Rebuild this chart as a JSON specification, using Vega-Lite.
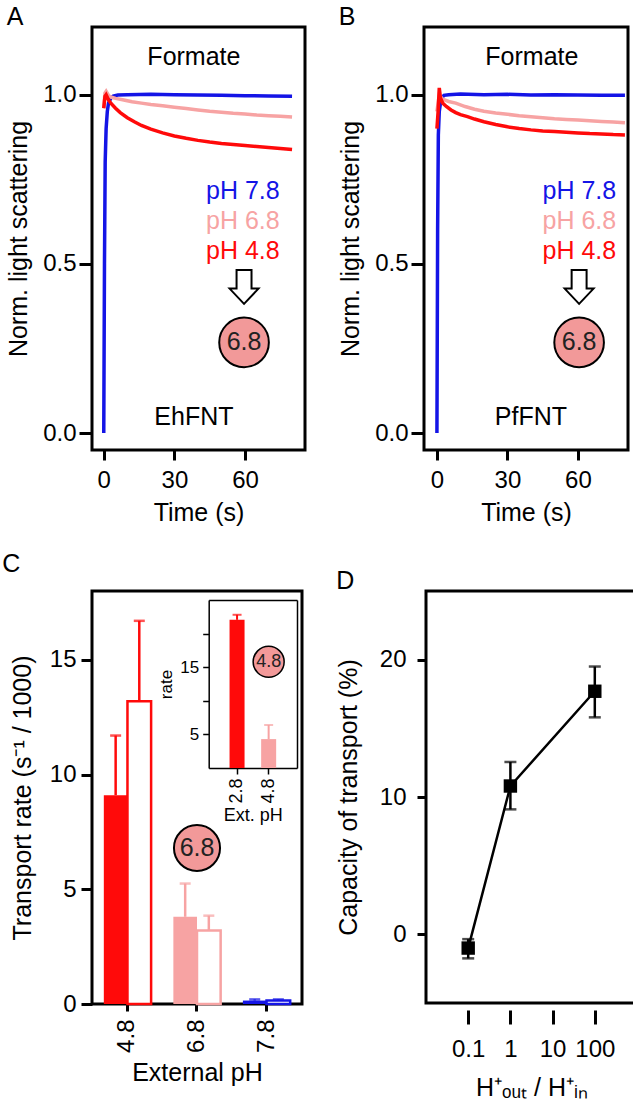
{
  "$schema": "https://vega.github.io/schema/vega-lite/v6.json",
  "padding": {"left": 0, "top": 3, "right": 0, "bottom": 0},
  "background": "white",
  "spacing": 23,
  "config": {
    "font": "Liberation Sans",
    "view": {"stroke": "black", "strokeWidth": 3},
    "axis": {"grid": false, "domain": false, "tickColor": "black", "tickWidth": 3, "labelColor": "black", "titleColor": "black", "labelFontSize": 24, "titleFontSize": 25, "titleFontWeight": "normal", "labelOverlap": false, "labelFlush": false},
    "title": {"fontSize": 25, "fontWeight": "normal", "anchor": "start", "color": "black"}
  },
  "datasets": {
    "ts": [
      {"panel":"A","pH":"7.8","t":0,"v":0},{"panel":"A","pH":"7.8","t":0.3,"v":0.5},{"panel":"A","pH":"7.8","t":0.6,"v":0.8},{"panel":"A","pH":"7.8","t":1,"v":0.9},{"panel":"A","pH":"7.8","t":1.5,"v":0.95},{"panel":"A","pH":"7.8","t":2,"v":0.975},{"panel":"A","pH":"7.8","t":3,"v":0.99},{"panel":"A","pH":"7.8","t":4,"v":0.996},{"panel":"A","pH":"7.8","t":6,"v":0.999},{"panel":"A","pH":"7.8","t":10,"v":1.0},{"panel":"A","pH":"7.8","t":20,"v":1.001},{"panel":"A","pH":"7.8","t":30,"v":1.0},{"panel":"A","pH":"7.8","t":40,"v":0.999},{"panel":"A","pH":"7.8","t":50,"v":0.998},{"panel":"A","pH":"7.8","t":60,"v":0.997},{"panel":"A","pH":"7.8","t":70,"v":0.996},{"panel":"A","pH":"7.8","t":80,"v":0.995},
      {"panel":"A","pH":"6.8","t":0,"v":0.96},{"panel":"A","pH":"6.8","t":0.5,"v":1.005},{"panel":"A","pH":"6.8","t":1,"v":1.01},{"panel":"A","pH":"6.8","t":2,"v":0.998},{"panel":"A","pH":"6.8","t":3,"v":0.993},{"panel":"A","pH":"6.8","t":5,"v":0.989},{"panel":"A","pH":"6.8","t":8,"v":0.985},{"panel":"A","pH":"6.8","t":12,"v":0.979},{"panel":"A","pH":"6.8","t":16,"v":0.975},{"panel":"A","pH":"6.8","t":20,"v":0.971},{"panel":"A","pH":"6.8","t":25,"v":0.967},{"panel":"A","pH":"6.8","t":30,"v":0.963},{"panel":"A","pH":"6.8","t":35,"v":0.959},{"panel":"A","pH":"6.8","t":40,"v":0.955},{"panel":"A","pH":"6.8","t":45,"v":0.951},{"panel":"A","pH":"6.8","t":50,"v":0.948},{"panel":"A","pH":"6.8","t":55,"v":0.945},{"panel":"A","pH":"6.8","t":60,"v":0.943},{"panel":"A","pH":"6.8","t":65,"v":0.94},{"panel":"A","pH":"6.8","t":70,"v":0.938},{"panel":"A","pH":"6.8","t":75,"v":0.936},{"panel":"A","pH":"6.8","t":80,"v":0.934},
      {"panel":"A","pH":"4.8","t":0,"v":0.96},{"panel":"A","pH":"4.8","t":0.5,"v":0.995},{"panel":"A","pH":"4.8","t":1,"v":1.0},{"panel":"A","pH":"4.8","t":2,"v":0.985},{"panel":"A","pH":"4.8","t":3,"v":0.975},{"panel":"A","pH":"4.8","t":5,"v":0.96},{"panel":"A","pH":"4.8","t":7,"v":0.947},{"panel":"A","pH":"4.8","t":10,"v":0.932},{"panel":"A","pH":"4.8","t":13,"v":0.92},{"panel":"A","pH":"4.8","t":16,"v":0.909},{"panel":"A","pH":"4.8","t":20,"v":0.898},{"panel":"A","pH":"4.8","t":25,"v":0.887},{"panel":"A","pH":"4.8","t":30,"v":0.878},{"panel":"A","pH":"4.8","t":35,"v":0.871},{"panel":"A","pH":"4.8","t":40,"v":0.865},{"panel":"A","pH":"4.8","t":45,"v":0.86},{"panel":"A","pH":"4.8","t":50,"v":0.856},{"panel":"A","pH":"4.8","t":55,"v":0.853},{"panel":"A","pH":"4.8","t":60,"v":0.85},{"panel":"A","pH":"4.8","t":65,"v":0.847},{"panel":"A","pH":"4.8","t":70,"v":0.844},{"panel":"A","pH":"4.8","t":75,"v":0.841},{"panel":"A","pH":"4.8","t":80,"v":0.838},
      {"panel":"B","pH":"7.8","t":0,"v":0},{"panel":"B","pH":"7.8","t":0.3,"v":0.6},{"panel":"B","pH":"7.8","t":0.6,"v":0.88},{"panel":"B","pH":"7.8","t":1,"v":0.95},{"panel":"B","pH":"7.8","t":1.5,"v":0.975},{"panel":"B","pH":"7.8","t":2,"v":0.99},{"panel":"B","pH":"7.8","t":3,"v":0.998},{"panel":"B","pH":"7.8","t":5,"v":1.0},{"panel":"B","pH":"7.8","t":10,"v":1.002},{"panel":"B","pH":"7.8","t":20,"v":1.0},{"panel":"B","pH":"7.8","t":30,"v":1.001},{"panel":"B","pH":"7.8","t":40,"v":0.999},{"panel":"B","pH":"7.8","t":50,"v":1.0},{"panel":"B","pH":"7.8","t":60,"v":0.999},{"panel":"B","pH":"7.8","t":70,"v":0.998},{"panel":"B","pH":"7.8","t":80,"v":0.998},
      {"panel":"B","pH":"6.8","t":0,"v":0.95},{"panel":"B","pH":"6.8","t":1,"v":1.0},{"panel":"B","pH":"6.8","t":2,"v":0.99},{"panel":"B","pH":"6.8","t":3,"v":0.985},{"panel":"B","pH":"6.8","t":5,"v":0.98},{"panel":"B","pH":"6.8","t":8,"v":0.975},{"panel":"B","pH":"6.8","t":12,"v":0.965},{"panel":"B","pH":"6.8","t":16,"v":0.957},{"panel":"B","pH":"6.8","t":20,"v":0.951},{"panel":"B","pH":"6.8","t":25,"v":0.946},{"panel":"B","pH":"6.8","t":30,"v":0.942},{"panel":"B","pH":"6.8","t":35,"v":0.938},{"panel":"B","pH":"6.8","t":40,"v":0.935},{"panel":"B","pH":"6.8","t":45,"v":0.932},{"panel":"B","pH":"6.8","t":50,"v":0.929},{"panel":"B","pH":"6.8","t":55,"v":0.927},{"panel":"B","pH":"6.8","t":60,"v":0.925},{"panel":"B","pH":"6.8","t":65,"v":0.923},{"panel":"B","pH":"6.8","t":70,"v":0.921},{"panel":"B","pH":"6.8","t":75,"v":0.919},{"panel":"B","pH":"6.8","t":80,"v":0.917},
      {"panel":"B","pH":"4.8","t":0,"v":0.9},{"panel":"B","pH":"4.8","t":0.5,"v":0.95},{"panel":"B","pH":"4.8","t":1,"v":1.02},{"panel":"B","pH":"4.8","t":1.5,"v":0.99},{"panel":"B","pH":"4.8","t":2.5,"v":0.975},{"panel":"B","pH":"4.8","t":4,"v":0.965},{"panel":"B","pH":"4.8","t":6,"v":0.955},{"panel":"B","pH":"4.8","t":8,"v":0.947},{"panel":"B","pH":"4.8","t":10,"v":0.941},{"panel":"B","pH":"4.8","t":13,"v":0.935},{"panel":"B","pH":"4.8","t":16,"v":0.928},{"panel":"B","pH":"4.8","t":20,"v":0.92},{"panel":"B","pH":"4.8","t":25,"v":0.912},{"panel":"B","pH":"4.8","t":30,"v":0.905},{"panel":"B","pH":"4.8","t":35,"v":0.9},{"panel":"B","pH":"4.8","t":40,"v":0.896},{"panel":"B","pH":"4.8","t":45,"v":0.893},{"panel":"B","pH":"4.8","t":50,"v":0.891},{"panel":"B","pH":"4.8","t":55,"v":0.889},{"panel":"B","pH":"4.8","t":60,"v":0.887},{"panel":"B","pH":"4.8","t":65,"v":0.885},{"panel":"B","pH":"4.8","t":70,"v":0.884},{"panel":"B","pH":"4.8","t":75,"v":0.882},{"panel":"B","pH":"4.8","t":80,"v":0.881}
    ],
    "annText": [
      {"panel":"A","label":"Formate","t":38.3,"v":1.111},
      {"panel":"A","label":"EhFNT","t":38.3,"v":0.047},
      {"panel":"B","label":"Formate","t":40.4,"v":1.111},
      {"panel":"B","label":"PfFNT","t":40,"v":0.047}
    ],
    "annPH": [
      {"panel":"A","pH":"7.8","label":"pH 7.8","t":59.1,"v":0.716},
      {"panel":"A","pH":"6.8","label":"pH 6.8","t":59.1,"v":0.627},
      {"panel":"A","pH":"4.8","label":"pH 4.8","t":59.1,"v":0.537},
      {"panel":"B","pH":"7.8","label":"pH 7.8","t":60.6,"v":0.716},
      {"panel":"B","pH":"6.8","label":"pH 6.8","t":60.6,"v":0.627},
      {"panel":"B","pH":"4.8","label":"pH 4.8","t":60.6,"v":0.537}
    ],
    "annMark": [
      {"panel":"A","t":59.6,"arrowV":0.432,"circleV":0.268,"label":"6.8"},
      {"panel":"B","t":60.5,"arrowV":0.432,"circleV":0.268,"label":"6.8"}
    ],
    "barsC": [
      {"pH":"4.8","kind":"filled","rate":9.1,"upper":11.7},
      {"pH":"4.8","kind":"open","rate":13.2,"upper":16.7},
      {"pH":"6.8","kind":"filled","rate":3.8,"upper":5.25},
      {"pH":"6.8","kind":"open","rate":3.2,"upper":3.85},
      {"pH":"7.8","kind":"filled","rate":0.15,"upper":0.2},
      {"pH":"7.8","kind":"open","rate":0.15,"upper":0.2}
    ],
    "circC": [{"pH":"6.8","rate":6.8,"label":"6.8"}],
    "inset": [
      {"pH":"2.8","rate":22.05,"upper":22.8},
      {"pH":"4.8","rate":4.3,"upper":6.4}
    ],
    "circInset": [{"pH":"4.8","rate":15.8,"label":"4.8"}],
    "capD": [
      {"ratio":0.1,"cap":-1.0,"lo":-1.75,"hi":-0.35},
      {"ratio":1,"cap":10.8,"lo":9.1,"hi":12.55},
      {"ratio":100,"cap":17.7,"lo":15.8,"hi":19.5}
    ]
  },
  "vconcat": [
    {
      "spacing": 30,
      "hconcat": [
        {
          "title": {"text": "A", "offset": -3},
          "width": 213,
          "height": 423,
          "layer": [
            {
              "data": {"name": "ts"},
              "transform": [{"filter": "datum.panel === 'A'"}],
              "mark": {"type": "line", "strokeWidth": 3.5},
              "encoding": {
                "x": {"field": "t", "type": "quantitative", "scale": {"domain": [-5, 85.5], "nice": false, "zero": false}, "axis": {"values": [0, 30, 60], "title": "Time (s)", "tickSize": 10, "labelPadding": 8, "titlePadding": 8}},
                "y": {"field": "v", "type": "quantitative", "scale": {"domain": [-0.05, 1.2], "nice": false, "zero": false}, "axis": {"values": [0, 0.5, 1], "format": ".1f", "title": "Norm. light scattering", "tickSize": 13, "labelPadding": 3, "titlePadding": 11}},
                "color": {"field": "pH", "type": "nominal", "scale": {"domain": ["7.8", "6.8", "4.8"], "range": ["#1414e6", "#f7a3a3", "#ff0a0a"]}, "legend": null}
              }
            },
            {
              "data": {"name": "annText"},
              "transform": [{"filter": "datum.panel === 'A'"}],
              "mark": {"type": "text", "fontSize": 25, "color": "black", "baseline": "middle"},
              "encoding": {"x": {"field": "t", "type": "quantitative"}, "y": {"field": "v", "type": "quantitative"}, "text": {"field": "label"}}
            },
            {
              "data": {"name": "annPH"},
              "transform": [{"filter": "datum.panel === 'A'"}],
              "mark": {"type": "text", "fontSize": 25, "baseline": "middle"},
              "encoding": {"x": {"field": "t", "type": "quantitative"}, "y": {"field": "v", "type": "quantitative"}, "text": {"field": "label"}, "color": {"field": "pH", "type": "nominal", "legend": null}}
            },
            {
              "data": {"name": "annMark"},
              "transform": [{"filter": "datum.panel === 'A'"}],
              "mark": {"type": "point", "shape": "M-0.44,-1L0.44,-1L0.44,0.1L0.85,0.1L0,1L-0.85,0.1L-0.44,0.1Z", "filled": true, "fill": "white", "stroke": "black", "strokeWidth": 2, "size": 1156, "opacity": 1},
              "encoding": {"x": {"field": "t", "type": "quantitative"}, "y": {"field": "arrowV", "type": "quantitative"}}
            },
            {
              "data": {"name": "annMark"},
              "transform": [{"filter": "datum.panel === 'A'"}],
              "mark": {"type": "point", "shape": "circle", "filled": true, "fill": "#f29999", "stroke": "black", "strokeWidth": 2, "size": 2463, "opacity": 1},
              "encoding": {"x": {"field": "t", "type": "quantitative"}, "y": {"field": "circleV", "type": "quantitative"}}
            },
            {
              "data": {"name": "annMark"},
              "transform": [{"filter": "datum.panel === 'A'"}],
              "mark": {"type": "text", "fontSize": 25, "color": "#222222", "baseline": "middle"},
              "encoding": {"x": {"field": "t", "type": "quantitative"}, "y": {"field": "circleV", "type": "quantitative"}, "text": {"field": "label"}}
            }
          ]
        },
        {
          "title": {"text": "B", "offset": -3},
          "width": 204,
          "height": 423,
          "layer": [
            {
              "data": {"name": "ts"},
              "transform": [{"filter": "datum.panel === 'B'"}],
              "mark": {"type": "line", "strokeWidth": 3.5},
              "encoding": {
                "x": {"field": "t", "type": "quantitative", "scale": {"domain": [-5.5, 81.3], "nice": false, "zero": false}, "axis": {"values": [0, 30, 60], "title": "Time (s)", "tickSize": 10, "labelPadding": 8, "titlePadding": 8}},
                "y": {"field": "v", "type": "quantitative", "scale": {"domain": [-0.05, 1.2], "nice": false, "zero": false}, "axis": {"values": [0, 0.5, 1], "format": ".1f", "title": "Norm. light scattering", "tickSize": 13, "labelPadding": 3, "titlePadding": 11}},
                "color": {"field": "pH", "type": "nominal", "scale": {"domain": ["7.8", "6.8", "4.8"], "range": ["#1414e6", "#f7a3a3", "#ff0a0a"]}, "legend": null}
              }
            },
            {
              "data": {"name": "annText"},
              "transform": [{"filter": "datum.panel === 'B'"}],
              "mark": {"type": "text", "fontSize": 25, "color": "black", "baseline": "middle"},
              "encoding": {"x": {"field": "t", "type": "quantitative"}, "y": {"field": "v", "type": "quantitative"}, "text": {"field": "label"}}
            },
            {
              "data": {"name": "annPH"},
              "transform": [{"filter": "datum.panel === 'B'"}],
              "mark": {"type": "text", "fontSize": 25, "baseline": "middle"},
              "encoding": {"x": {"field": "t", "type": "quantitative"}, "y": {"field": "v", "type": "quantitative"}, "text": {"field": "label"}, "color": {"field": "pH", "type": "nominal", "legend": null}}
            },
            {
              "data": {"name": "annMark"},
              "transform": [{"filter": "datum.panel === 'B'"}],
              "mark": {"type": "point", "shape": "M-0.44,-1L0.44,-1L0.44,0.1L0.85,0.1L0,1L-0.85,0.1L-0.44,0.1Z", "filled": true, "fill": "white", "stroke": "black", "strokeWidth": 2, "size": 1156, "opacity": 1},
              "encoding": {"x": {"field": "t", "type": "quantitative"}, "y": {"field": "arrowV", "type": "quantitative"}}
            },
            {
              "data": {"name": "annMark"},
              "transform": [{"filter": "datum.panel === 'B'"}],
              "mark": {"type": "point", "shape": "circle", "filled": true, "fill": "#f29999", "stroke": "black", "strokeWidth": 2, "size": 2463, "opacity": 1},
              "encoding": {"x": {"field": "t", "type": "quantitative"}, "y": {"field": "circleV", "type": "quantitative"}}
            },
            {
              "data": {"name": "annMark"},
              "transform": [{"filter": "datum.panel === 'B'"}],
              "mark": {"type": "text", "fontSize": 25, "color": "#222222", "baseline": "middle"},
              "encoding": {"x": {"field": "t", "type": "quantitative"}, "y": {"field": "circleV", "type": "quantitative"}, "text": {"field": "label"}}
            }
          ]
        }
      ]
    },
    {
      "spacing": 30,
      "hconcat": [
        {
          "title": {"text": "C", "offset": 14, "dx": -8},
          "width": 210,
          "height": 413,
          "resolve": {"scale": {"x": "independent", "y": "independent", "color": "independent", "xOffset": "independent"}, "axis": {"x": "independent", "y": "independent"}},
          "layer": [
            {
              "data": {"name": "barsC"},
              "encoding": {
                "x": {"field": "pH", "type": "nominal", "scale": {"domain": ["4.8", "6.8", "7.8"], "paddingInner": 0.32, "paddingOuter": 0.17}, "axis": {"labelAngle": -90, "title": "External pH", "tickSize": 7, "labelPadding": 8, "titlePadding": 8}},
                "xOffset": {"field": "kind", "type": "nominal", "scale": {"domain": ["filled", "open"], "paddingInner": 0, "paddingOuter": 0}}
              },
              "layer": [
                {
                  "transform": [{"filter": "datum.kind === 'filled'"}],
                  "mark": {"type": "bar"},
                  "encoding": {
                    "y": {"field": "rate", "type": "quantitative", "scale": {"domain": [0, 18], "nice": false}, "axis": {"values": [0, 5, 10, 15], "title": "Transport rate (s⁻¹ / 1000)", "tickSize": 11, "labelPadding": 5, "titlePadding": 14}},
                    "color": {"field": "pH", "type": "nominal", "scale": {"domain": ["4.8", "6.8", "7.8"], "range": ["#ff0a0a", "#f7a3a3", "#1414e6"]}, "legend": null}
                  }
                },
                {
                  "transform": [{"filter": "datum.kind === 'open'"}],
                  "mark": {"type": "bar", "fill": "white", "strokeWidth": 2.5},
                  "encoding": {
                    "y": {"field": "rate", "type": "quantitative"},
                    "stroke": {"field": "pH", "type": "nominal", "scale": {"domain": ["4.8", "6.8", "7.8"], "range": ["#ff0a0a", "#f7a3a3", "#1414e6"]}, "legend": null}
                  }
                },
                {
                  "mark": {"type": "rule", "strokeWidth": 2.5},
                  "encoding": {
                    "y": {"field": "rate", "type": "quantitative"},
                    "y2": {"field": "upper"},
                    "color": {"field": "pH", "type": "nominal", "legend": null}
                  }
                },
                {
                  "mark": {"type": "tick", "thickness": 2.5, "size": 11, "orient": "horizontal"},
                  "encoding": {
                    "y": {"field": "upper", "type": "quantitative"},
                    "color": {"field": "pH", "type": "nominal", "legend": null}
                  }
                },
                {
                  "data": {"name": "circC"},
                  "mark": {"type": "point", "shape": "circle", "filled": true, "fill": "#f29999", "stroke": "black", "strokeWidth": 2, "size": 2124, "opacity": 1},
                  "encoding": {"xOffset": null, "y": {"field": "rate", "type": "quantitative"}}
                },
                {
                  "data": {"name": "circC"},
                  "mark": {"type": "text", "fontSize": 25, "color": "#222222", "baseline": "middle"},
                  "encoding": {"xOffset": null, "y": {"field": "rate", "type": "quantitative"}, "text": {"field": "label"}}
                }
              ]
            },
            {
              "data": {"name": "inset"},
              "encoding": {
                "x": {"field": "pH", "type": "nominal", "scale": {"domain": ["2.8", "4.8"], "range": [116.7, 205], "paddingInner": 0.525, "paddingOuter": 0.66}, "axis": {"orient": "bottom", "offset": -236, "labelAngle": -90, "title": "Ext. pH", "labelFontSize": 18, "titleFontSize": 18, "tickSize": 6, "tickWidth": 1.5, "domain": true, "domainColor": "black", "domainWidth": 1.5, "labelPadding": 4, "titlePadding": 3}}
              },
              "layer": [
                {
                  "mark": {"type": "bar"},
                  "encoding": {
                    "y": {"field": "rate", "type": "quantitative", "scale": {"domain": [0, 25], "range": [177, 9], "nice": false}, "axis": {"orient": "left", "offset": -116.7, "values": [5, 10, 15, 20], "labelExpr": "datum.value === 5 || datum.value === 15 ? datum.label : ''", "title": "rate", "labelFontSize": 17, "titleFontSize": 17, "tickSize": 6, "tickWidth": 1.5, "domain": true, "domainColor": "black", "domainWidth": 1.5, "labelPadding": 4, "titlePadding": 4}},
                    "color": {"field": "pH", "type": "nominal", "scale": {"domain": ["2.8", "4.8"], "range": ["#ff0a0a", "#f7a3a3"]}, "legend": null}
                  }
                },
                {
                  "mark": {"type": "rule", "strokeWidth": 2},
                  "encoding": {"y": {"field": "rate", "type": "quantitative"}, "y2": {"field": "upper"}, "color": {"field": "pH", "type": "nominal", "legend": null}}
                },
                {
                  "mark": {"type": "tick", "thickness": 2, "size": 9, "orient": "horizontal"},
                  "encoding": {"y": {"field": "upper", "type": "quantitative"}, "color": {"field": "pH", "type": "nominal", "legend": null}}
                },
                {
                  "data": {"name": "circInset"},
                  "mark": {"type": "point", "shape": "circle", "filled": true, "fill": "#f29999", "stroke": "black", "strokeWidth": 1.5, "size": 962, "opacity": 1},
                  "encoding": {"y": {"field": "rate", "type": "quantitative"}}
                },
                {
                  "data": {"name": "circInset"},
                  "mark": {"type": "text", "fontSize": 18, "color": "#222222", "baseline": "middle"},
                  "encoding": {"y": {"field": "rate", "type": "quantitative"}, "text": {"field": "label"}}
                }
              ]
            },
            {
              "data": {"name": "inset"},
              "mark": {"type": "point", "opacity": 0},
              "encoding": {
                "x": {"field": "pH", "type": "nominal", "scale": {"domain": ["2.8", "4.8"], "range": [116.7, 205], "paddingInner": 0.525, "paddingOuter": 0.66}, "axis": {"orient": "top", "offset": -9, "labels": false, "ticks": false, "title": null, "domain": true, "domainColor": "black", "domainWidth": 1.5}},
                "y": {"field": "rate", "type": "quantitative", "scale": {"domain": [0, 25], "range": [177, 9], "nice": false}, "axis": {"orient": "right", "offset": -5, "labels": false, "ticks": false, "title": null, "domain": true, "domainColor": "black", "domainWidth": 1.5}}
              }
            }
          ]
        },
        {
          "title": {"text": "D", "offset": -3},
          "width": 211,
          "height": 412,
          "data": {"name": "capD"},
          "encoding": {
            "x": {"field": "ratio", "type": "quantitative", "scale": {"type": "log", "domain": [0.01, 1000], "nice": false}, "axis": {"values": [0.1, 1, 10, 100], "format": "~g", "title": "H⁺ₒᵤₜ / H⁺ᵢₙ", "offset": 7, "tickSize": 14, "labelPadding": 13, "titlePadding": 14}}
          },
          "layer": [
            {
              "mark": {"type": "line", "color": "black", "strokeWidth": 2.5},
              "encoding": {"y": {"field": "cap", "type": "quantitative", "scale": {"domain": [-5, 25], "nice": false, "zero": false}, "axis": {"values": [0, 10, 20], "title": "Capacity of transport (%)", "tickSize": 9, "labelPadding": 11, "titlePadding": 18}}}
            },
            {
              "mark": {"type": "rule", "color": "black", "strokeWidth": 2.5},
              "encoding": {"y": {"field": "lo", "type": "quantitative"}, "y2": {"field": "hi"}}
            },
            {
              "mark": {"type": "tick", "color": "black", "thickness": 2.5, "size": 12, "orient": "horizontal"},
              "encoding": {"y": {"field": "lo", "type": "quantitative"}}
            },
            {
              "mark": {"type": "tick", "color": "black", "thickness": 2.5, "size": 12, "orient": "horizontal"},
              "encoding": {"y": {"field": "hi", "type": "quantitative"}}
            },
            {
              "mark": {"type": "point", "shape": "square", "filled": true, "color": "black", "size": 180, "opacity": 1},
              "encoding": {"y": {"field": "cap", "type": "quantitative"}}
            }
          ]
        }
      ]
    }
  ]
}
